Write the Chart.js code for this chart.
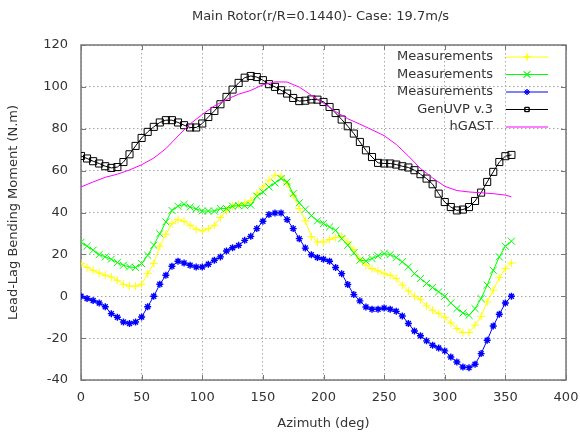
<!DOCTYPE html>
<html>
<head>
<meta charset="utf-8">
<script src="https://cdn.jsdelivr.net/npm/chart.js@4.4.1/dist/chart.umd.min.js"></script>
<style>
  html, body { margin: 0; padding: 0; background: #ffffff; }
  #wrap { width: 580px; height: 435px; }
</style>
</head>
<body>
<div id="wrap"><canvas id="chart" width="580" height="435"></canvas></div>
<script>
// Azimuth stations (deg) of the measured and GenUVP samples
const azimuth = [0, 5, 10, 15, 20, 25, 30, 35, 40, 45, 50, 55, 60, 65, 70, 75, 80, 85, 90, 95,
  100, 105, 110, 115, 120, 125, 130, 135, 140, 145, 150, 155, 160, 165, 170, 175, 180, 185, 190, 195,
  200, 205, 210, 215, 220, 225, 230, 235, 240, 245, 250, 255, 260, 265, 270, 275, 280, 285, 290, 295,
  300, 305, 310, 315, 320, 325, 330, 335, 340, 345, 350, 355];

// Lead-lag bending moment (N.m)
const measYellow = [15.6, 13.7, 12.4, 11.1, 10.0, 9.2, 7.6, 5.7, 4.8, 4.8,
  5.7, 10.8, 15.6, 23.9, 29.6, 34.7, 36.6, 35.8, 33.9, 32.0,
  31.2, 32.3, 33.9, 37.6, 41.0, 43.1, 43.8, 44.6, 45.8, 49.0,
  52.2, 55.4, 57.8, 57.3, 53.8, 48.2, 41.9, 36.0, 28.5, 25.9,
  25.9, 27.1, 28.0, 28.6, 25.9, 22.3, 17.7, 14.8, 13.2, 12.1,
  10.8, 10.0, 8.5, 5.3, 2.5, 0.0, -1.6, -4.6, -6.7, -8.3,
  -10.2, -12.7, -15.4, -17.3, -17.3, -13.8, -9.6, -2.7, 2.9, 8.9,
  13.2, 15.9];

const measGreen = [25.8, 23.9, 22.0, 19.9, 18.8, 17.7, 16.1, 14.8, 14.0, 13.7,
  15.6, 19.6, 24.4, 29.9, 35.5, 41.0, 43.0, 43.9, 42.6, 41.7,
  40.7, 40.7, 40.7, 41.9, 41.9, 43.0, 43.3, 43.2, 43.5, 47.8,
  49.8, 52.2, 54.1, 56.2, 54.6, 49.0, 44.6, 41.5, 38.5, 36.0,
  34.7, 33.1, 31.5, 27.5, 24.4, 20.7, 17.2, 16.9, 18.0, 19.3,
  20.4, 19.9, 18.5, 16.4, 14.0, 10.8, 8.5, 6.1, 4.2, 2.1,
  0.0, -3.2, -5.9, -8.0, -9.1, -5.9, -1.1, 5.3, 12.4, 18.8,
  23.9, 26.3];

const measBlue = [0.0, -1.1, -2.0, -3.2, -5.0, -8.3, -10.0, -12.3, -13.0, -12.3,
  -9.9, -5.0, 0.0, 5.7, 10.0, 14.3, 16.7, 15.9, 14.8, 14.0,
  14.0, 15.3, 17.2, 18.8, 21.6, 23.2, 24.3, 26.7, 28.6, 32.3,
  35.8, 39.0, 39.8, 39.8, 36.6, 32.3, 27.5, 23.0, 19.8, 18.5,
  17.7, 16.7, 13.7, 10.8, 5.6, 0.8, -2.2, -5.1, -6.2, -6.2,
  -5.6, -6.2, -7.2, -9.4, -13.0, -16.6, -18.9, -21.3, -23.4, -24.7,
  -26.1, -29.0, -31.4, -33.8, -34.1, -32.5, -27.4, -21.0, -14.2, -8.6,
  -3.2, 0.0];

const genUVP = [67.0, 65.8, 64.5, 63.4, 62.1, 61.3, 61.7, 64.1, 67.8, 71.8,
  75.6, 78.5, 80.9, 83.0, 84.1, 84.1, 83.0, 81.7, 80.6, 80.6,
  82.5, 85.6, 88.5, 91.7, 95.2, 98.7, 101.9, 104.4, 105.2, 104.7,
  103.2, 101.3, 100.0, 98.4, 96.8, 94.7, 93.2, 93.4, 94.0, 93.9,
  92.8, 90.4, 87.5, 84.4, 81.2, 77.7, 73.7, 69.7, 66.5, 63.7,
  63.4, 63.4, 62.9, 62.1, 61.5, 60.2, 58.3, 56.2, 53.5, 49.0,
  45.0, 42.6, 41.0, 41.4, 42.6, 45.5, 49.5, 54.6, 59.4, 64.1,
  66.9, 67.5];

// hGAST output is stored on its own azimuth grid
const hgastAzimuth = [0, 10, 20, 30, 40, 50, 60, 70, 80, 90, 100, 110, 120, 130, 140, 150, 160, 170,
  180, 190, 200, 210, 220, 230, 240, 250, 260, 270, 280, 290, 300, 310, 320, 330, 340, 350, 355];
const hgast = [52.2, 54.6, 56.8, 58.3, 60.3, 62.8, 66.0, 70.5, 76.5, 82.3, 86.8, 90.9, 94.0, 96.5,
  98.3, 101.0, 102.4, 102.3, 99.9, 96.0, 92.2, 88.2, 84.8, 82.2, 79.5, 76.7, 72.5, 67.0, 61.0,
  56.5, 52.5, 50.5, 49.8, 49.4, 49.0, 48.3, 47.5];

const xTicks = [0, 50, 100, 150, 200, 250, 300, 350, 400];
const yTicks = [-40, -20, 0, 20, 40, 60, 80, 100, 120];

const chartTitle = 'Main Rotor(r/R=0.1440)- Case: 19.7m/s';
const xTitle = 'Azimuth (deg)';
const yTitle = 'Lead-Lag Bending Moment (N.m)';

const FONT = 'DejaVu Sans';
const TEXT = '#333333';

function pairs(xs, ys) {
  return ys.map((v, i) => ({ x: xs[i], y: v }));
}

const datasets = [
  { label: 'Measurements', data: pairs(azimuth, measYellow), borderColor: '#ffff00',
    pointStyle: 'cross', pointRadius: 4, order: 5 },
  { label: 'Measurements', data: pairs(azimuth, measGreen), borderColor: '#00ff00',
    pointStyle: 'crossRot', pointRadius: 5, order: 4 },
  { label: 'Measurements', data: pairs(azimuth, measBlue), borderColor: '#0000ff',
    pointStyle: 'star', pointRadius: 3.5, pointBorderWidth: 1.4, order: 3 },
  { label: 'GenUVP v.3', data: pairs(azimuth, genUVP), borderColor: '#000000',
    pointStyle: 'rect', pointRadius: 5, order: 2 },
  { label: 'hGAST', data: pairs(hgastAzimuth, hgast), borderColor: '#ff00ff',
    pointStyle: false, pointRadius: 0, order: 1 }
].map(d => Object.assign({
  borderWidth: 1,
  pointBorderColor: d.borderColor,
  pointBackgroundColor: 'rgba(0,0,0,0)',
  pointBorderWidth: 1,
  tension: 0,
  fill: false
}, d));

// Gnuplot-like frame with inward ticks on all four sides, plus the plot title
const framePlugin = {
  id: 'frame',
  beforeDatasetsDraw(chart) {
    const { ctx, chartArea: a, scales } = chart;
    ctx.save();
    ctx.strokeStyle = '#777777';
    ctx.lineWidth = 1.5;
    ctx.strokeRect(a.left, a.top, a.right - a.left, a.bottom - a.top);
    ctx.lineWidth = 1;
    ctx.beginPath();
    xTicks.forEach(v => {
      const x = Math.round(scales.x.getPixelForValue(v)) + 0.5;
      ctx.moveTo(x, a.bottom); ctx.lineTo(x, a.bottom - 5);
      ctx.moveTo(x, a.top); ctx.lineTo(x, a.top + 5);
    });
    yTicks.forEach(v => {
      const y = Math.round(scales.y.getPixelForValue(v)) + 0.5;
      ctx.moveTo(a.left, y); ctx.lineTo(a.left + 5, y);
      ctx.moveTo(a.right, y); ctx.lineTo(a.right - 5, y);
    });
    ctx.stroke();
    ctx.restore();
  },
  afterDraw(chart) {
    const { ctx, chartArea: a } = chart;
    ctx.save();
    ctx.fillStyle = TEXT;
    ctx.font = '13px "' + FONT + '"';
    ctx.textAlign = 'center';
    ctx.textBaseline = 'middle';
    ctx.fillText(chartTitle, (a.left + a.right) / 2 - 3, 17);
    ctx.restore();
  }
};

// Key in the upper right: right-aligned names followed by a line sample
const keyPlugin = {
  id: 'key',
  afterDatasetsDraw(chart) {
    const { ctx } = chart;
    const rowY = [57, 74.5, 92, 109.5, 127];
    const textRight = 493, x0 = 506, x1 = 548, xm = 527;
    ctx.save();
    ctx.font = '13px "' + FONT + '"';
    ctx.textAlign = 'right';
    ctx.textBaseline = 'middle';
    chart.data.datasets.forEach((ds, i) => {
      const y = rowY[i];
      ctx.fillStyle = TEXT;
      ctx.fillText(ds.label, textRight, y);
      ctx.strokeStyle = ds.borderColor;
      ctx.lineWidth = 1;
      ctx.beginPath();
      ctx.moveTo(x0, y); ctx.lineTo(x1, y);
      ctx.stroke();
      if (ds.pointStyle) {
        // open marker: no fill, outline in the series colour
        ctx.fillStyle = 'rgba(0,0,0,0)';
        Chart.helpers.drawPoint(ctx, {
          pointStyle: ds.pointStyle,
          radius: ds.pointStyle === 'rect' ? 3 : ds.pointRadius - 0.5,
          borderWidth: 1,
          rotation: 0
        }, xm, y);
        ctx.stroke();
      }
    });
    ctx.restore();
  }
};

new Chart(document.getElementById('chart'), {
  type: 'line',
  data: { datasets },
  options: {
    responsive: false,
    animation: false,
    devicePixelRatio: 1,
    layout: { padding: { left: 0, right: 14, top: 45, bottom: 0 } },
    plugins: {
      legend: { display: false },
      tooltip: { enabled: false },
      title: { display: false }
    },
    scales: {
      x: {
        type: 'linear',
        min: 0, max: 400,
        afterBuildTicks: s => { s.ticks = xTicks.map(v => ({ value: v })); },
        afterFit: s => { s.height = 55; s.paddingLeft = 0; s.paddingRight = 0; },
        grid: { color: '#a8a8a8', lineWidth: 1, drawTicks: false },
        border: { display: false, dash: [1.5, 2.5] },
        ticks: { color: TEXT, padding: 10, font: { family: FONT, size: 13 }, maxRotation: 0 },
        title: { display: true, text: xTitle, color: TEXT, font: { family: FONT, size: 13 },
                 padding: { top: 0, bottom: 4 } }
      },
      y: {
        type: 'linear',
        min: -40, max: 120,
        afterBuildTicks: s => { s.ticks = yTicks.map(v => ({ value: v })); },
        afterFit: s => { s.width = 81; s.paddingTop = 0; s.paddingBottom = 0; },
        grid: { color: '#a8a8a8', lineWidth: 1, drawTicks: false },
        border: { display: false, dash: [1.5, 2.5] },
        ticks: { color: TEXT, padding: 13, font: { family: FONT, size: 13 } },
        title: { display: true, text: yTitle, color: TEXT, font: { family: FONT, size: 13 },
                 padding: { top: 6, bottom: 0 } }
      }
    }
  },
  plugins: [framePlugin, keyPlugin]
});
</script>
</body>
</html>
